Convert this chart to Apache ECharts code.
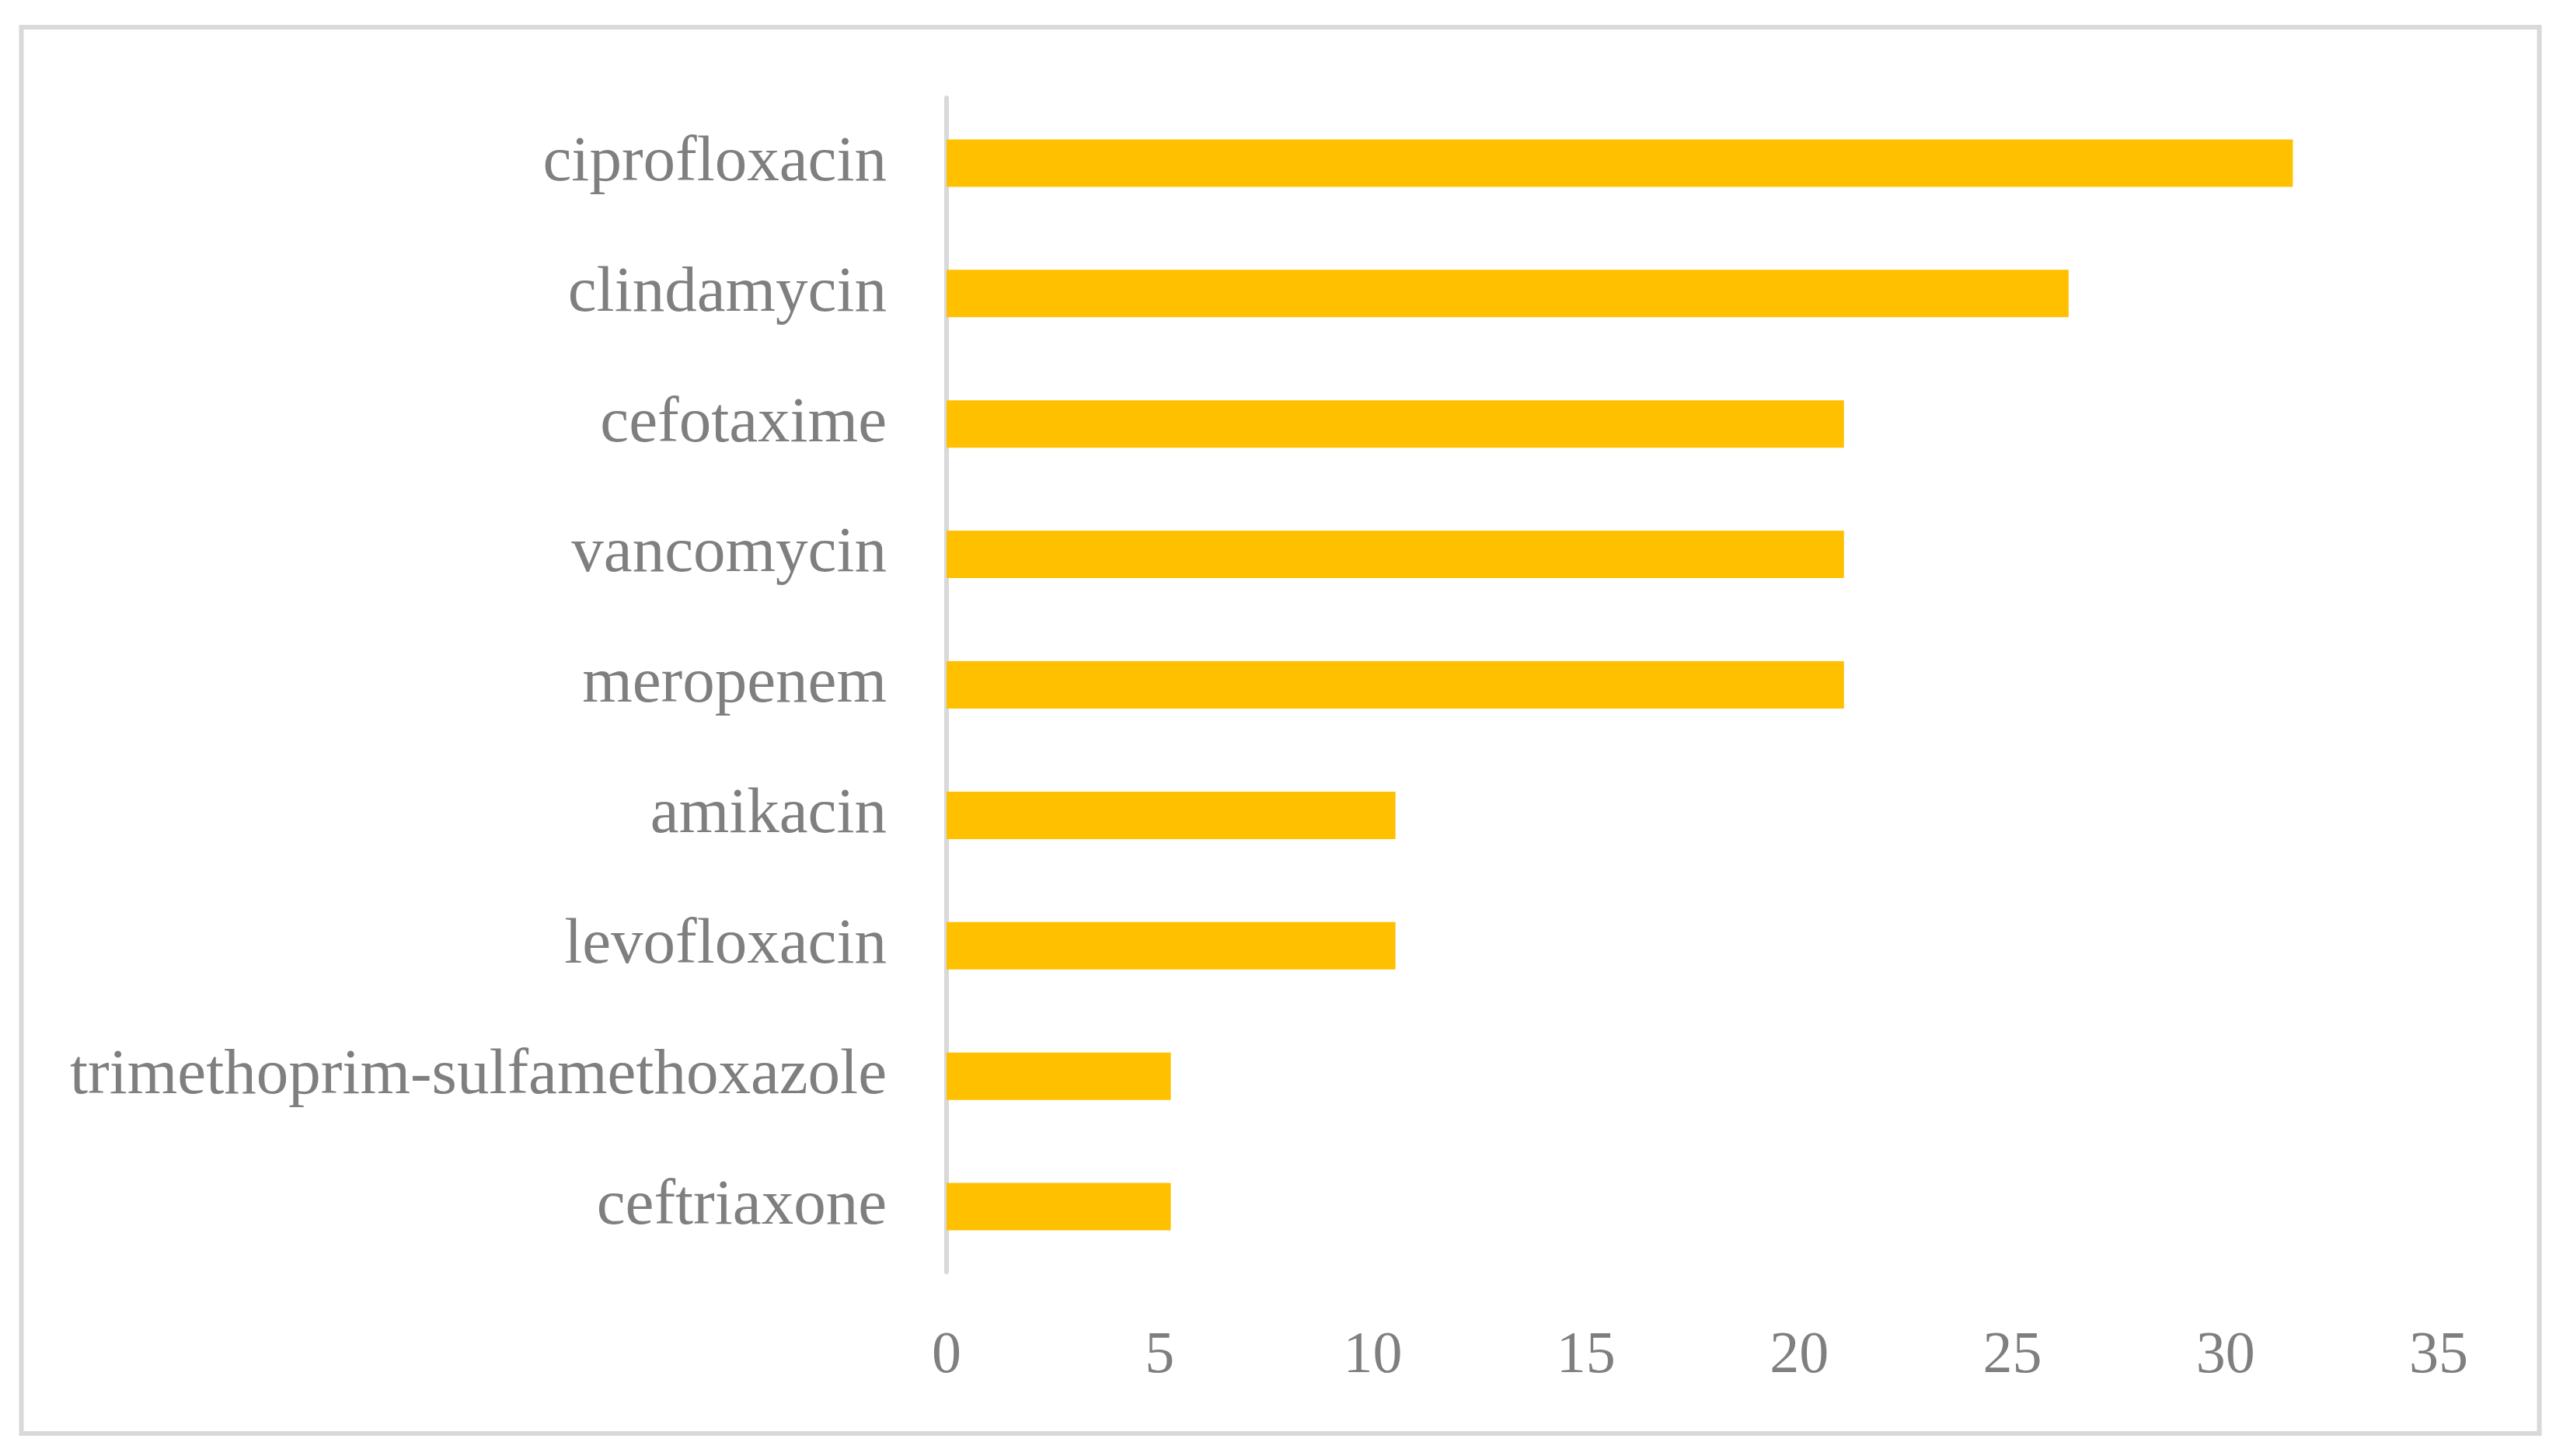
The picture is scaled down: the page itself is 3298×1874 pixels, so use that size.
<!DOCTYPE html>
<html>
<head>
<meta charset="utf-8">
<script src="https://cdn.jsdelivr.net/npm/echarts@6/dist/echarts.min.js"></script>
<style>
  html, body { margin: 0; padding: 0; background: #fff; }
  #chart { width: 3298px; height: 1874px; }
</style>
</head>
<body>
<div id="chart"></div>
<script>
// categories listed bottom to top (category axis starts at the bottom)
var categories = [
  'ceftriaxone',
  'trimethoprim-sulfamethoxazole',
  'levofloxacin',
  'amikacin',
  'meropenem',
  'vancomycin',
  'cefotaxime',
  'clindamycin',
  'ciprofloxacin'
];
var values = [5.26, 5.26, 10.53, 10.53, 21.05, 21.05, 21.05, 26.32, 31.58];
var xTicks = [0, 5, 10, 15, 20, 25, 30, 35];

var fontFam = '"Palatino Linotype", "Book Antiqua", "Liberation Serif", serif';
var chart = echarts.init(document.getElementById('chart'));

chart.setOption({
  backgroundColor: '#ffffff',
  animation: false,
  graphic: [{
    type: 'rect',
    shape: { x: 27.5, y: 35, width: 3240, height: 1810 },
    style: { fill: 'none', stroke: '#d9d9d9', lineWidth: 6 },
    silent: true
  }],
  grid: { left: 1218, right: 160, top: 126, bottom: 237 },
  xAxis: {
    type: 'value',
    min: xTicks[0],
    max: xTicks[xTicks.length - 1],
    interval: 5,
    axisLine: { show: false },
    axisTick: { show: false },
    splitLine: { show: false },
    axisLabel: {
      margin: 71,
      color: '#7f7f7f',
      fontFamily: fontFam,
      fontSize: 76
    }
  },
  yAxis: {
    type: 'category',
    data: categories,
    axisLine: { show: true, lineStyle: { color: '#d9d9d9', width: 6 } },
    axisTick: { show: false },
    axisLabel: {
      margin: 77,
      color: '#7f7f7f',
      fontFamily: fontFam,
      fontSize: 83,
      padding: [6, 0, 0, 0]
    }
  },
  series: [{
    type: 'bar',
    data: values,
    barWidth: 61,
    itemStyle: { color: '#ffc000' }
  }]
});
</script>
</body>
</html>
